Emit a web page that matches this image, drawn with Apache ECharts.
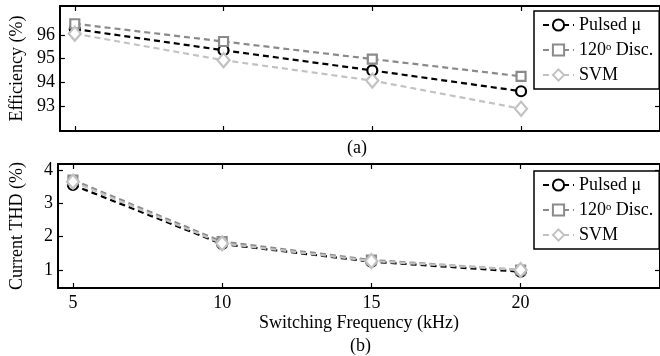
<!DOCTYPE html>
<html>
<head>
<meta charset="utf-8">
<script src="https://cdn.jsdelivr.net/npm/echarts@6/dist/echarts.min.js"></script>
<style>
  html, body { margin: 0; padding: 0; background: #fff; }
  #chart { width: 660px; height: 356px; }
</style>
</head>
<body>
<div id="chart"></div>
<script>
// switching frequency (kHz)
var freqs = [5, 10, 15, 20];
var freqTicks = [5, 10, 15, 20];

// (a) efficiency (%)
var effPulsed = [96.25, 95.35, 94.5, 93.62];
var effDisc = [96.47, 95.72, 94.98, 94.25];
var effSvm = [96.05, 94.93, 94.07, 92.88];
var effTicks = [93, 94, 95, 96];

// (b) current THD (%)
var thdPulsed = [3.55, 1.78, 1.25, 0.95];
var thdDisc = [3.7, 1.85, 1.3, 1.0];
var thdSvm = [3.65, 1.8, 1.27, 1.0];
var thdTicks = [1, 2, 3, 4];

var seriesNames = ["Pulsed \u03bc", "120\u00b0 Disc.", "SVM"];

var font = "'Liberation Serif', 'Times New Roman', serif";
var colors = ["#000000", "#8a8a8a", "#c2c2c2"];
var symbols = ["circle", "rect", "diamond"];
var symbolSizes = [10, 9, [12, 14]];

function pairs(ys) {
  return freqs.map(function (x, i) { return [x, ys[i]]; });
}

function makeSeries(idx, grid, values) {
  return {
    name: seriesNames[idx],
    type: "line",
    xAxisIndex: grid * 2,
    yAxisIndex: grid * 2,
    data: pairs(values),
    symbol: symbols[idx],
    symbolSize: symbolSizes[idx],
    showAllSymbol: true,
    lineStyle: { color: colors[idx], width: 2.2, type: [6, 4] },
    itemStyle: { color: "#fff", borderColor: colors[idx], borderWidth: 2.2 },
    emphasis: { disabled: true },
    animation: false
  };
}

var axisLine = { show: true, lineStyle: { color: "#000", width: 2 } };
var tickStyle = { color: "#000", width: 1.2 };

function xAxes(grid, withLabels) {
  return [
    {
      type: "value", gridIndex: grid, min: 4.5, max: 24.67, position: "bottom",
      axisLine: axisLine,
      axisTick: { show: true, inside: true, length: 5, lineStyle: tickStyle, customValues: freqTicks },
      axisLabel: withLabels
        ? { show: true, customValues: freqTicks, margin: 6, color: "#000", fontFamily: font, fontSize: 18 }
        : { show: false },
      splitLine: { show: false },
      name: withLabels ? "Switching Frequency (kHz)" : "",
      nameLocation: "middle", nameGap: 26,
      nameTextStyle: { color: "#000", fontFamily: font, fontSize: 18 }
    },
    {
      type: "value", gridIndex: grid, min: 4.5, max: 24.67, position: "top",
      axisLine: axisLine,
      axisTick: { show: true, inside: true, length: 5, lineStyle: tickStyle, customValues: freqTicks },
      axisLabel: { show: false },
      splitLine: { show: false }
    }
  ];
}

function yAxes(grid, min, max, ticks, name) {
  return [
    {
      type: "value", gridIndex: grid, min: min, max: max, position: "left",
      axisLine: axisLine,
      axisTick: { show: true, inside: true, length: 5, lineStyle: tickStyle, customValues: ticks },
      axisLabel: { show: true, customValues: ticks, margin: 5, color: "#000", fontFamily: font, fontSize: 18 },
      splitLine: { show: false },
      name: name, nameLocation: "middle", nameGap: 32,
      nameTextStyle: { color: "#000", fontFamily: font, fontSize: 18 }
    },
    {
      type: "value", gridIndex: grid, min: min, max: max, position: "right",
      axisLine: axisLine,
      axisTick: { show: true, inside: true, length: 5, lineStyle: tickStyle, customValues: ticks },
      axisLabel: { show: false },
      splitLine: { show: false }
    }
  ];
}

function legendAt(top) {
  return {
    left: 534, top: top,
    orient: "vertical",
    data: seriesNames,
    backgroundColor: "#fff",
    borderColor: "#000", borderWidth: 1.5, borderRadius: 0,
    padding: [5, 6, 5, 8],
    itemGap: 7,
    itemWidth: 31, itemHeight: 14,
    selectedMode: false,
    formatter: function (n) {
      return n === seriesNames[1] ? "120\u1d52 Disc." : n;
    },
    textStyle: { color: "#000", fontFamily: font, fontSize: 18, lineHeight: 18 }
  };
}

var chart = echarts.init(document.getElementById("chart"));
chart.setOption({
  animation: false,
  backgroundColor: "#fff",
  grid: [
    { left: 58, top: 6, width: 605, height: 125 },
    { left: 58, top: 164, width: 605, height: 124 }
  ],
  xAxis: xAxes(0, false).concat(xAxes(1, true)),
  yAxis: yAxes(0, 91.94, 97.22, effTicks, "Efficiency (%)")
    .concat(yAxes(1, 0.46, 4.18, thdTicks, "Current THD (%)")),
  legend: [legendAt(11), legendAt(171)],
  graphic: [
    { type: "text", left: 347, top: 139, style: { text: "(a)", font: "18px " + font, fill: "#000" } },
    { type: "text", left: 350, top: 337, style: { text: "(b)", font: "18px " + font, fill: "#000" } }
  ],
  series: [
    makeSeries(0, 0, effPulsed),
    makeSeries(1, 0, effDisc),
    makeSeries(2, 0, effSvm),
    makeSeries(0, 1, thdPulsed),
    makeSeries(1, 1, thdDisc),
    makeSeries(2, 1, thdSvm)
  ]
});
</script>
</body>
</html>
